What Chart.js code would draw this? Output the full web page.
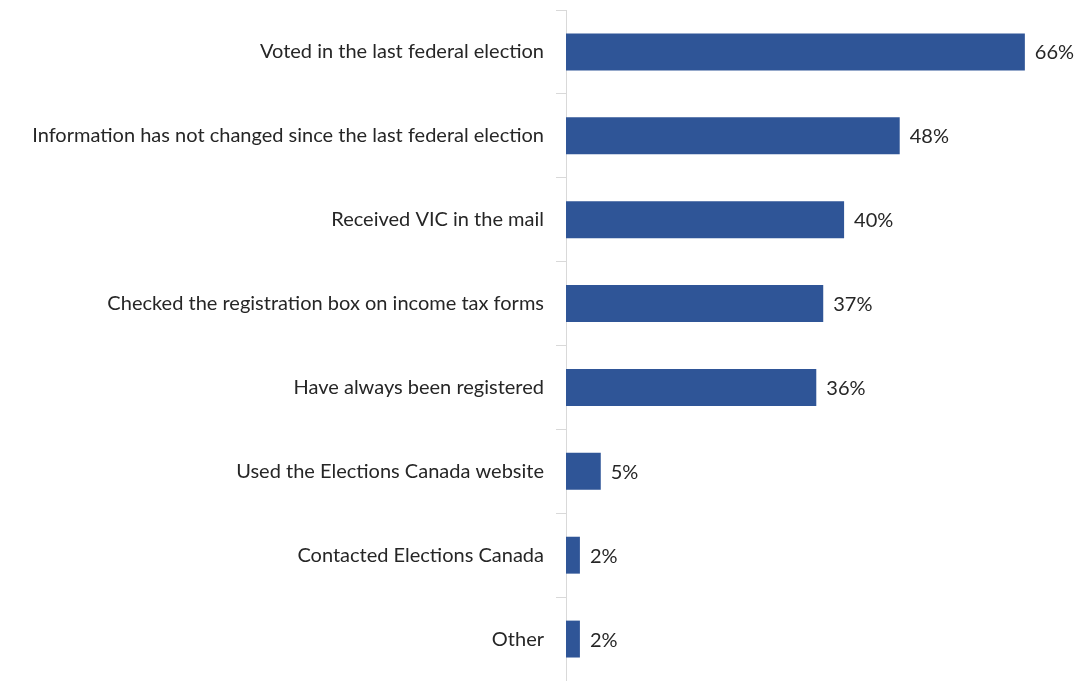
<!DOCTYPE html>
<html>
<head>
<meta charset="utf-8">
<script src="https://cdn.jsdelivr.net/npm/chart.js@4/dist/chart.umd.min.js"></script>
<style>
  html, body { margin: 0; padding: 0; background: #fff; }
  #wrap { width: 1077px; height: 681px; }
</style>
</head>
<body>
<div id="wrap"><canvas id="c"></canvas></div>
<script>
const categories = [
    "Voted in the last federal election",
    "Information has not changed since the last federal election",
    "Received VIC in the mail",
    "Checked the registration box on income tax forms",
    "Have always been registered",
    "Used the Elections Canada website",
    "Contacted Elections Canada",
    "Other"
];
const values = [66, 48, 40, 37, 36, 5, 2, 2];

const BAR_COLOR = "#2F5597";
const TEXT_COLOR = "#262626";
const FONT = "Lato, 'Open Sans', sans-serif";
const FONT_SIZE = 20;

// draws "NN%" just past the end of each bar
const valueLabels = {
    id: "valueLabels",
    afterDatasetsDraw(chart) {
        const ctx = chart.ctx;
        const meta = chart.getDatasetMeta(0);
        ctx.save();
        ctx.font = FONT_SIZE + "px " + FONT;
        ctx.fillStyle = TEXT_COLOR;
        ctx.textAlign = "left";
        ctx.textBaseline = "middle";
        meta.data.forEach((bar, i) => {
            ctx.fillText(values[i] + "%", bar.x + 10, bar.y + 1);
        });
        ctx.restore();
    }
};

new Chart(document.getElementById("c"), {
    type: "bar",
    data: {
        labels: categories,
        datasets: [{
            data: values,
            backgroundColor: BAR_COLOR,
            categoryPercentage: 1,
            barPercentage: 0.44
        }]
    },
    options: {
        indexAxis: "y",
        responsive: true,
        maintainAspectRatio: false,
        animation: false,
        layout: { padding: { top: 10, right: 0, bottom: 0, left: 0 } },
        plugins: {
            legend: { display: false },
            tooltip: { enabled: false }
        },
        scales: {
            x: {
                display: false,
                min: 0,
                max: 73.5
            },
            y: {
                afterFit(scale) {
                    scale.width = 566;
                    scale.paddingTop = 0;
                    scale.paddingBottom = 0;
                },
                grid: {
                    offset: true,
                    drawOnChartArea: false,
                    drawTicks: true,
                    tickLength: 10,
                    color: "#d9d9d9"
                },
                border: { color: "#d9d9d9" },
                ticks: {
                    color: TEXT_COLOR,
                    padding: 12,
                    font: { family: FONT, size: FONT_SIZE }
                }
            }
        }
    },
    plugins: [valueLabels]
});
</script>
</body>
</html>
